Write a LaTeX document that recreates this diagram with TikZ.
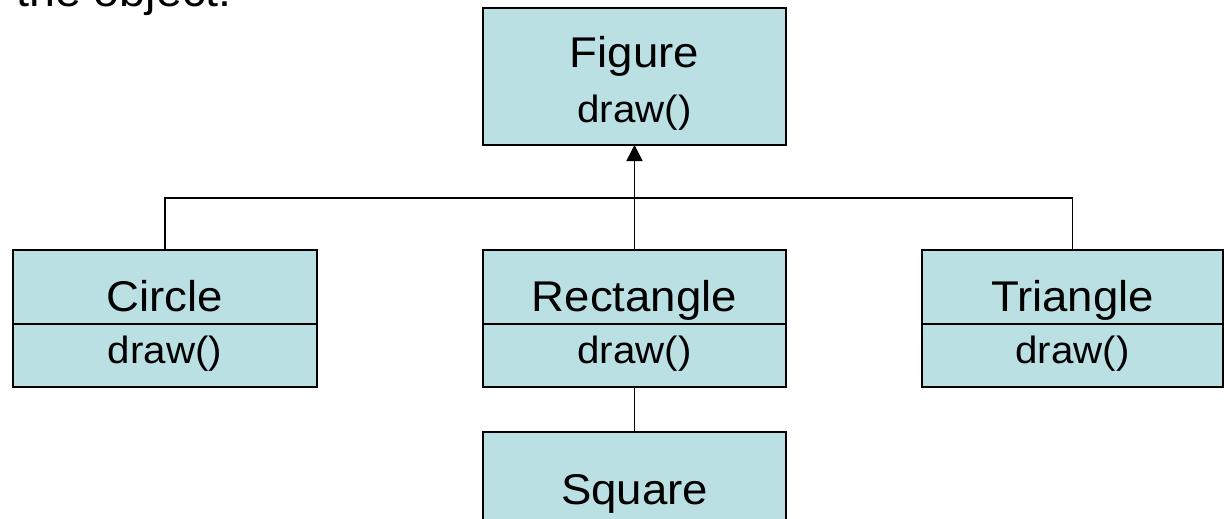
\documentclass[tikz,border=0pt]{standalone}
\usepackage{fontspec}
\newfontfamily\boxfont{Liberation Sans}[FakeStretch=1.06]
\usetikzlibrary{arrows.meta}
\definecolor{classfill}{RGB}{187,224,227}

\begin{document}
\begin{tikzpicture}[x=1pt,y=-1pt,
  classbox/.style={draw=black, line width=2pt, fill=classfill, rectangle,
    minimum width=303pt, minimum height=137pt, inner sep=0pt, outer sep=0pt},
  divider/.style={draw=black, line width=1.6pt},
  classname/.style={anchor=base, inner sep=0pt, font=\boxfont\fontsize{43}{50}\selectfont},
  method/.style={anchor=base, inner sep=0pt, font=\boxfont\fontsize{38}{44}\selectfont},
  conn/.style={draw=black, line width=1.6pt},
  inherit/.style={conn, -{Triangle[length=16pt,width=16pt]}}
]
\useasboundingbox (0,0) rectangle (1224,519);

% caption text running off the top edge
\node[anchor=base west, inner sep=0pt, font=\boxfont\fontsize{44}{50}\selectfont] (caption) at (16,7) {the object.};

% class boxes
\node[classbox] (figure) at (634.5,76.5) {};
\node[classbox, minimum width=304pt] (circle) at (165,318.5) {};
\node[classbox] (rect) at (634.5,318.5) {};
\node[classbox, minimum width=301pt] (triangle) at (1072.5,318.5) {};
\node[classbox] (square) at (634.5,500.5) {};

% compartment dividers
\draw[divider] (circle.west |- 0,324) -- (circle.east |- 0,324);
\draw[divider] (rect.west |- 0,324) -- (rect.east |- 0,324);
\draw[divider] (triangle.west |- 0,324) -- (triangle.east |- 0,324);

% labels
\node[classname] (figname) at (634.5,68) {Figure};
\node[method] (figdraw) at (634.5,122) {draw()};
\node[classname] (circname) at (165,311) {Circle};
\node[method] (circdraw) at (165,363) {draw()};
\node[classname] (rectname) at (634.5,311) {Rectangle};
\node[method] (rectdraw) at (634.5,363) {draw()};
\node[classname] (triname) at (1072.5,311) {Triangle};
\node[method] (tridraw) at (1072.5,363) {draw()};
\node[classname] (sqname) at (634.5,504) {Square};

% inheritance connectors
\coordinate (bus) at (634,198);
\draw[conn] (circle.north) |- (bus) -| (triangle.north);
\draw[inherit] (rect.north) -- (figure.south);
\draw[conn] (rect.south) -- (square.north);
\end{tikzpicture}
\end{document}
